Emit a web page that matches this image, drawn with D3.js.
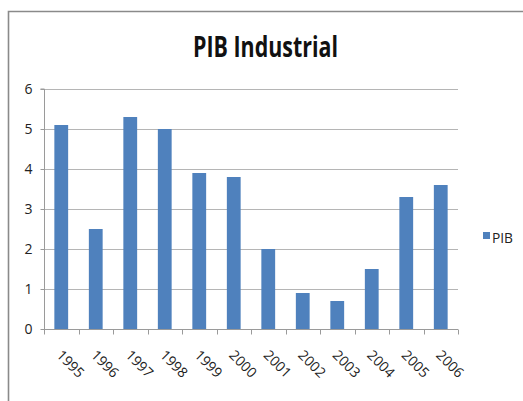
<!DOCTYPE html>
<html><head><meta charset="utf-8">
<script src="https://cdn.jsdelivr.net/npm/d3@7"></script>
<style>body{margin:0;background:#fff}svg{display:block}</style>
</head><body>
<script>
const categories = ["1995","1996","1997","1998","1999","2000","2001","2002","2003","2004","2005","2006"];
const values = [5.1,2.5,5.3,5.0,3.9,3.8,2.0,0.9,0.7,1.5,3.3,3.6];
const yTicks = [0,1,2,3,4,5,6];
const seriesName = "PIB";
const title = "PIB Industrial";

const W = 523, H = 401;
const svg = d3.select("body").append("svg").attr("width", W).attr("height", H);
const font = "'Open Sans', 'DejaVu Sans', sans-serif";

svg.append("rect").attr("width", W).attr("height", H).attr("fill", "#fff");
// outer border
svg.append("path").attr("d", `M8.5,${H+2} V11.5 H${W+2}`).attr("fill","none").attr("stroke","#8a8a8a").attr("stroke-width",1.6);

const m = {l:44, r:458, t:89, b:329};
const x = d3.scaleBand().domain(categories).range([m.l, m.r]).paddingInner(0.6).paddingOuter(0.3);
const xb = d3.scaleBand().domain(categories).range([m.l, m.r]);
const y = d3.scaleLinear().domain([0,6]).range([m.b, m.t]);

// gridlines
svg.append("g").selectAll("line").data(yTicks.filter(d=>d>0)).join("line")
  .attr("x1", m.l).attr("x2", m.r).attr("y1", d=>Math.round(y(d))+0.5).attr("y2", d=>Math.round(y(d))+0.5)
  .attr("stroke","#b5b5b5").attr("stroke-width",1.2);

// bars
svg.append("g").selectAll("rect").data(values).join("rect")
  .attr("x", (d,i)=>x(categories[i])).attr("width", x.bandwidth())
  .attr("y", d=>y(d)).attr("height", d=>y(0)-y(d)).attr("fill","#4f81bd");

// y axis
const ya = svg.append("g").attr("transform",`translate(${m.l+0.5},0)`)
  .call(d3.axisLeft(y).tickValues(yTicks).tickSize(4).tickPadding(8).tickFormat(d3.format("d")));
ya.select(".domain").attr("stroke","#9a9a9a").attr("d", `M-4,${y(6)}H0V${y(0)}`);
ya.selectAll(".tick line").attr("stroke","#9a9a9a");
ya.selectAll("text").attr("font-family",font).attr("font-size",14).attr("fill","#222");

// x axis
const xa = svg.append("g").attr("transform",`translate(0,${m.b+0.5})`);
xa.append("line").attr("x1",m.l).attr("x2",m.r).attr("stroke","#9a9a9a");
xa.selectAll("line.t").data(categories.concat(["end"])).join("line").attr("class","t")
  .attr("x1",(d,i)=> i<categories.length ? Math.round(xb(d))+0.5 : m.r+0.5)
  .attr("x2",(d,i)=> i<categories.length ? Math.round(xb(d))+0.5 : m.r+0.5)
  .attr("y1",0).attr("y2",5).attr("stroke","#9a9a9a");
xa.selectAll("text").data(categories).join("text")
  .attr("transform", d=>`translate(${xb(d)+xb.bandwidth()/2-2},${23}) rotate(45)`)
  .attr("font-family",font).attr("font-size",14).attr("fill","#222")
  .attr("text-anchor","start").attr("dy","0.35em").text(d=>d);

// title
svg.append("text").attr("x",265.5).attr("y",57).attr("text-anchor","middle")
  .attr("font-family",font).attr("font-weight","bold").attr("font-size",29).attr("fill","#111")
  .attr("textLength",145).attr("lengthAdjust","spacingAndGlyphs").text(title);

// legend
svg.append("rect").attr("x",483).attr("y",232).attr("width",7).attr("height",7).attr("fill","#4f81bd");
svg.append("text").attr("x",492).attr("y",243).attr("font-family",font).attr("font-size",14).attr("fill","#222")
  .attr("textLength",21).attr("lengthAdjust","spacingAndGlyphs").text(seriesName);
</script>
</body></html>
